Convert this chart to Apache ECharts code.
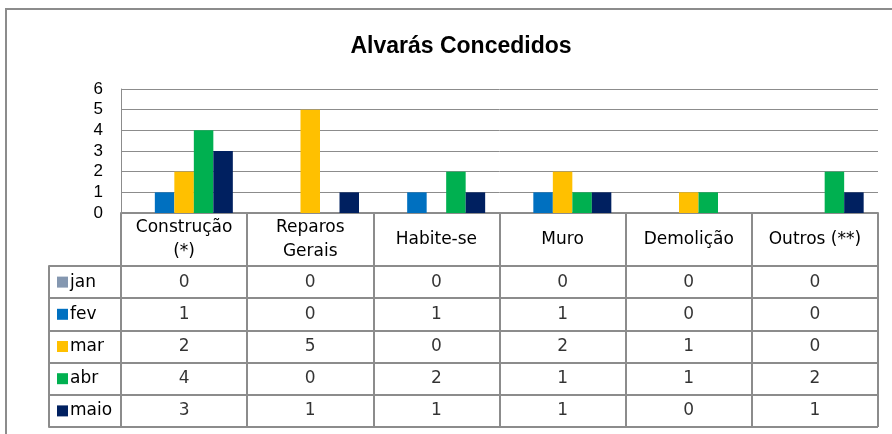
<!DOCTYPE html>
<html>
<head>
<meta charset="utf-8">
<script src="https://cdn.jsdelivr.net/npm/echarts@6/dist/echarts.min.js"></script>
<style>
  html, body { margin: 0; padding: 0; background: #fff; }
  #chart { width: 892px; height: 434px; }
</style>
</head>
<body>
<div id="chart"></div>
<script>
// dados
var categories = ['Construção\n(*)', 'Reparos\nGerais', 'Habite-se', 'Muro', 'Demolição', 'Outros (**)'];
var months = ['jan', 'fev', 'mar', 'abr', 'maio'];
var jan = [0, 0, 0, 0, 0, 0];
var fev = [1, 0, 1, 1, 0, 0];
var mar = [2, 5, 0, 2, 1, 0];
var abr = [4, 0, 2, 1, 1, 2];
var maio = [3, 1, 1, 1, 0, 1];
var yMin = 0, yMax = 6, yStep = 1;

var monthColors = ['#8497B0', '#0070C0', '#FFC000', '#00B050', '#002060'];
var monthValues = [jan, fev, mar, abr, maio];

var lineGray = '#8c8c8c';
var tableFont = 'DejaVu Sans';

/**
 * series de barras
 */
function buildBars() {
    var list = [];
    for (var i = 0; i < months.length; i++) {
        list.push({
            name: months[i],
            type: 'bar',
            xAxisIndex: 0,
            yAxisIndex: 0,
            barWidth: 19.5,
            barGap: '0%',
            itemStyle: { color: monthColors[i] },
            data: monthValues[i]
        });
    }
    return list;
}

/**
 * celulas da tabela de dados
 */
function buildCells() {
    var cells = [];
    for (var m = 0; m < months.length; m++) {
        for (var c = 0; c < categories.length; c++) {
            cells.push([c, m, monthValues[m][c]]);
        }
    }
    return cells;
}

// legenda na coluna da tabela
var rich = { t: { fontFamily: tableFont, fontSize: 17, color: '#000', padding: [0, 0, 0, 2] } };
for (var k = 0; k < months.length; k++) {
    rich['sq' + k] = { backgroundColor: monthColors[k], width: 11, height: 11 };
}

var myChart = echarts.init(document.getElementById('chart'), null, { renderer: 'canvas' });
var option = {
    animation: false,
    backgroundColor: '#fff',
    title: {
        text: 'Alvarás Concedidos',
        left: 456,
        textAlign: 'center',
        top: 30,
        textStyle: {
            fontFamily: 'Liberation Sans',
            fontWeight: 'bold',
            fontSize: 23,
            color: '#000'
        }
    },
    graphic: [{
        type: 'rect',
        shape: { x: 6, y: 9, width: 900, height: 440 },
        style: { fill: 'none', stroke: lineGray, lineWidth: 2 },
        silent: true
    }],
    grid: [
        { left: 121, right: 14, top: 89, bottom: 221 },
        { left: 121, right: 14, top: 266, bottom: 7 }
    ],
    xAxis: [
        {
            type: 'category',
            gridIndex: 0,
            data: categories,
            axisLine: { show: true, lineStyle: { color: lineGray, width: 2 } },
            axisTick: { show: true, length: 53, lineStyle: { color: lineGray, width: 2 } },
            axisLabel: {
                interval: 0,
                margin: 27,
                verticalAlign: 'middle',
                fontFamily: tableFont,
                fontSize: 17,
                lineHeight: 24,
                color: '#000'
            },
            splitLine: { show: false }
        },
        {
            type: 'category',
            gridIndex: 1,
            data: categories,
            axisLine: { show: false },
            axisTick: { show: false },
            axisLabel: { show: false },
            splitLine: { show: true, interval: 0, lineStyle: { color: lineGray, width: 2 } }
        }
    ],
    yAxis: [
        {
            type: 'value',
            gridIndex: 0,
            min: yMin,
            max: yMax,
            interval: yStep,
            axisLine: { show: true, lineStyle: { color: lineGray, width: 1 } },
            axisTick: { show: false },
            axisLabel: {
                margin: 18,
                fontFamily: 'Liberation Sans',
                fontSize: 17,
                color: '#000'
            },
            splitLine: { show: true, lineStyle: { color: lineGray, width: 1 } }
        },
        {
            type: 'category',
            gridIndex: 1,
            inverse: true,
            data: months,
            axisLine: { show: true, lineStyle: { color: lineGray, width: 2 } },
            axisTick: { show: true, length: 72, lineStyle: { color: lineGray, width: 2 } },
            axisLabel: {
                interval: 0,
                align: 'left',
                margin: 64,
                formatter: function (v, i) {
                    return '{sq' + i + '|}{t|' + v + '}';
                },
                rich: rich
            },
            splitLine: { show: true, interval: 0, lineStyle: { color: lineGray, width: 2 } }
        },
        {
            type: 'category',
            gridIndex: 1,
            position: 'left',
            offset: 72,
            data: months,
            axisLine: { show: true, lineStyle: { color: lineGray, width: 2 } },
            axisTick: { show: false },
            axisLabel: { show: false },
            splitLine: { show: false }
        }
    ],
    series: buildBars().concat([{
        type: 'scatter',
        xAxisIndex: 1,
        yAxisIndex: 1,
        symbolSize: 1,
        itemStyle: { color: 'rgba(0,0,0,0)' },
        label: {
            show: true,
            position: 'inside',
            fontFamily: tableFont,
            fontSize: 17,
            color: '#000',
            formatter: function (p) { return p.value[2]; }
        },
        data: buildCells()
    }])
};
myChart.setOption(option);
</script>
</body>
</html>
